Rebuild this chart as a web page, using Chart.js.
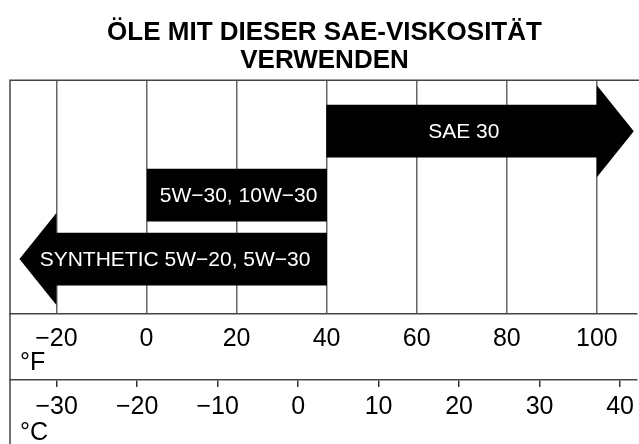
<!DOCTYPE html>
<html>

<head>
    <title>Öle mit dieser SAE-Viskosität verwenden</title>
    <script src="https://cdn.jsdelivr.net/npm/chart.js"></script>
    <style>
        body { margin: 0; background: #fff; }
        #rahmen { width: 639px; height: 444px; }
    </style>
</head>

<body>
    <div id="rahmen"><canvas id="grafik"></canvas></div>

    <script>
        // Viskositätsklassen mit Temperaturbereich in °F
        const klassen = ['SAE 30', '5W\u221230, 10W\u221230', 'SYNTHETIC 5W\u221220, 5W\u221230'];
        const vonF = [40, 0, -20];
        const bisF = [100, 40, 40];
        // Spitze des Pfeils in °F (null = Balken ohne Pfeil)
        const spitzeF = [108.2, null, -28.2];

        // Achsenbeschriftungen
        const ticksF = [-20, 0, 20, 40, 60, 80, 100];
        const ticksC = [-30, -20, -10, 0, 10, 20, 30, 40];

        const schrift = "'Liberation Sans', Arial, Helvetica, sans-serif";
        Chart.defaults.font.family = schrift;
        Chart.defaults.color = '#000';

        // negatives Vorzeichen als echtes Minuszeichen
        function mitMinus(v) {
            return v < 0 ? '\u2212' + Math.abs(v) : String(v);
        }

        // Pfeilspitzen und weiße Beschriftung in den Balken
        const pfeile = {
            id: 'pfeile',
            afterDatasetsDraw(chart) {
                const ctx = chart.ctx;
                const x = chart.scales.x;
                const meta = chart.getDatasetMeta(0);
                ctx.save();
                ctx.font = '21px ' + schrift;
                meta.data.forEach((balken, i) => {
                    const yc = balken.y;
                    const links = x.getPixelForValue(vonF[i]);
                    const rechts = x.getPixelForValue(bisF[i]);
                    let a = links, b = rechts;
                    if (spitzeF[i] !== null) {
                        const nachRechts = spitzeF[i] > bisF[i];
                        const basis = nachRechts ? rechts : links;
                        const spitze = x.getPixelForValue(spitzeF[i]);
                        ctx.fillStyle = '#000';
                        ctx.beginPath();
                        ctx.moveTo(basis, yc - 46);
                        ctx.lineTo(spitze, yc);
                        ctx.lineTo(basis, yc + 46);
                        ctx.closePath();
                        ctx.fill();
                        // passt der Text nicht in den Balken, wird die Spitze mitgenommen
                        if (ctx.measureText(klassen[i]).width > rechts - links - 10) {
                            a = Math.min(a, spitze);
                            b = Math.max(b, spitze);
                        }
                    }
                    ctx.fillStyle = '#fff';
                    ctx.textAlign = 'center';
                    ctx.textBaseline = 'middle';
                    ctx.fillText(klassen[i], (a + b) / 2 + 2, yc + 1);
                });
                ctx.restore();
            }
        };

        // Rahmen oben/links und Einheiten °F / °C
        const rahmen = {
            id: 'rahmenlinien',
            afterDraw(chart) {
                const { ctx, chartArea, width, height } = chart;
                ctx.save();
                ctx.strokeStyle = '#444';
                ctx.lineWidth = 1.5;
                ctx.beginPath();
                ctx.moveTo(chartArea.left, height);
                ctx.lineTo(chartArea.left, chartArea.top);
                ctx.lineTo(width, chartArea.top);
                ctx.stroke();

                ctx.fillStyle = '#000';
                ctx.font = '25px ' + schrift;
                ctx.textAlign = 'left';
                ctx.textBaseline = 'alphabetic';
                ctx.fillText('\u00b0F', chartArea.left + 10, chart.scales.x.bottom - 10);
                ctx.fillText('\u00b0C', chartArea.left + 10, chart.scales.c.bottom - 4);
                ctx.restore();
            }
        };

        const ctx = document.getElementById('grafik').getContext('2d');
        new Chart(ctx, {
            type: 'bar',
            data: {
                datasets: [{
                    data: klassen.map((k, i) => ({ x: [vonF[i], bisF[i]], y: i })),
                    backgroundColor: '#000',
                    borderWidth: 0,
                    barThickness: 52
                }]
            },
            options: {
                indexAxis: 'y',
                responsive: true,
                maintainAspectRatio: false,
                devicePixelRatio: 1,
                animation: false,
                layout: { padding: { left: 10, right: 0, top: 0, bottom: 0 } },
                plugins: {
                    legend: { display: false },
                    tooltip: { enabled: false },
                    title: {
                        display: true,
                        text: ['ÖLE MIT DIESER SAE-VISKOSITÄT', 'VERWENDEN'],
                        color: '#000',
                        font: { size: 26, weight: 'bold', lineHeight: 1.08 },
                        padding: { top: 19, bottom: 5 }
                    }
                },
                scales: {
                    x: {
                        type: 'linear',
                        position: 'bottom',
                        min: -30.3,
                        max: 108.9,
                        weight: 0,
                        afterBuildTicks: s => { s.ticks = ticksF.map(v => ({ value: v })); },
                        afterFit: s => { s.height = 66; },
                        grid: { color: '#666', lineWidth: 1.5, drawTicks: false },
                        border: { display: true, color: '#444', width: 1.5 },
                        ticks: {
                            padding: 10,
                            font: { size: 25 },
                            color: '#000',
                            maxRotation: 0,
                            autoSkip: false,
                            callback: v => mitMinus(v)
                        }
                    },
                    c: {
                        axis: 'x',
                        type: 'linear',
                        position: 'bottom',
                        min: -35.8,
                        max: 42.1,
                        weight: 1,
                        afterBuildTicks: s => { s.ticks = ticksC.map(v => ({ value: v })); },
                        afterFit: s => { s.height = 64; },
                        grid: { drawOnChartArea: false, drawTicks: true, tickLength: 7, color: '#333', lineWidth: 1.5 },
                        border: { display: true, color: '#444', width: 1.5 },
                        ticks: {
                            padding: 5,
                            font: { size: 25 },
                            color: '#000',
                            maxRotation: 0,
                            autoSkip: false,
                            callback: v => mitMinus(v)
                        }
                    },
                    y: {
                        type: 'linear',
                        reverse: true,
                        offset: false,
                        min: -0.797,
                        max: 2.859,
                        display: false
                    }
                }
            },
            plugins: [pfeile, rahmen]
        });
    </script>
</body>

</html>
